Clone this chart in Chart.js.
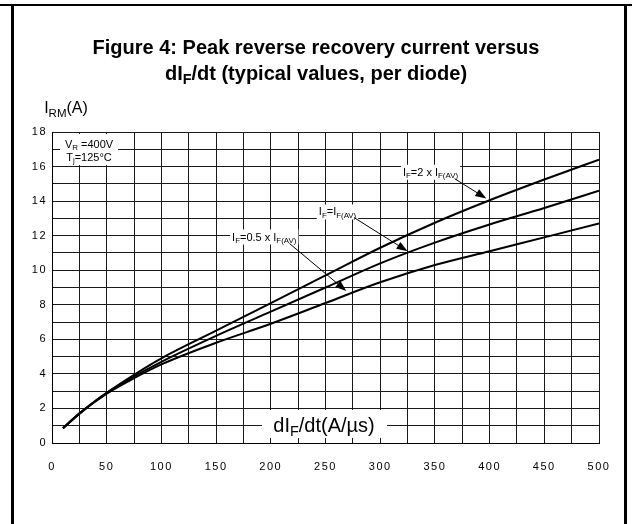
<!DOCTYPE html>
<html>
<head>
<meta charset="utf-8">
<script src="https://cdn.jsdelivr.net/npm/chart.js@4.4.0/dist/chart.umd.min.js"></script>
<style>
  html, body { margin: 0; padding: 0; background: #fff; }
</style>
</head>
<body>
<canvas id="myChart" width="632" height="524"></canvas>
<script>
// dIF/dt (A/us) sample points
const didt = [10, 25, 50, 75, 100, 150, 200, 250, 300, 350, 400, 450, 500];
// IRM (A) for each forward current
const irmDouble = [0.85, 1.7, 2.9, 3.95, 4.9, 6.5, 8.1, 9.7, 11.3, 12.75, 14.05, 15.25, 16.4];
const irmRated = [0.85, 1.7, 2.9, 3.85, 4.7, 6.2, 7.6, 9.0, 10.4, 11.6, 12.65, 13.6, 14.6];
const irmHalf = [0.85, 1.7, 2.85, 3.75, 4.55, 5.8, 6.9, 8.1, 9.3, 10.3, 11.1, 11.9, 12.7];

const xMin = 0, xMax = 500, xGridStep = 25, xLabelStep = 50;
const yMin = 0, yMax = 18, yGridStep = 1, yLabelStep = 2;

// text pieces: [text, isSubscript]
const titleLine1 = [["Figure 4: Peak reverse recovery current versus", 0]];
const titleLine2 = [["dI", 0], ["F", 1], ["/dt (typical values, per diode)", 0]];
const yTitle = [["I", 0], ["RM", 1], ["(A)", 0]];
const xTitle = [["dI", 0], ["F", 1], ["/dt(A/\u00b5s)", 0]];
const condLine1 = [["V", 0], ["R", 1], [" =400V", 0]];
const condLine2 = [["T", 0], ["j", 1], ["=125\u00b0C", 0]];

// curve labels, placed in data units: label point, arrow start, arrow tip
const curveLabels = [
  { text: [["I", 0], ["F", 1], ["=2 x I", 0], ["F(AV)", 1]], at: [346, 15.7], from: [368, 15.3], to: [397, 14.15] },
  { text: [["I", 0], ["F", 1], ["=I", 0], ["F(AV)", 1]], at: [261, 13.4], from: [276, 13.05], to: [325, 11.1] },
  { text: [["I", 0], ["F", 1], ["=0.5 x I", 0], ["F(AV)", 1]], at: [194, 11.95], from: [217, 11.55], to: [269, 8.8] }
];

const FONT = "'Liberation Sans', Arial, Helvetica, sans-serif";

function richWidth(c, parts, size, bold) {
  let w = 0;
  parts.forEach(([t, sub]) => {
    c.font = (bold ? "bold " : "") + (sub ? size * 0.72 : size) + "px " + FONT;
    w += c.measureText(t).width;
  });
  return w;
}

// draws text with subscripts, x is the centre, y the baseline
function drawRich(c, parts, x, y, size, bold) {
  const w = richWidth(c, parts, size, bold);
  let px = x - w / 2;
  c.textAlign = "left";
  c.textBaseline = "alphabetic";
  parts.forEach(([t, sub]) => {
    c.font = (bold ? "bold " : "") + (sub ? size * 0.72 : size) + "px " + FONT;
    c.fillText(t, px, sub ? y + size * 0.22 : y);
    px += c.measureText(t).width;
  });
  return w;
}

function whiteBox(c, x, y, w, h) {
  c.fillStyle = "#fff";
  c.fillRect(x, y, w, h);
  c.fillStyle = "#000";
}

const decor = {
  id: "decor",
  beforeDraw(chart) {
    const c = chart.ctx;
    c.save();
    c.fillStyle = "#fff";
    c.fillRect(0, 0, chart.width, chart.height);
    c.fillStyle = "#000";
    c.fillRect(0, 4, chart.width, 2);
    c.fillRect(11, 4, 3, chart.height);
    c.fillRect(624, 4, 3, chart.height);
    c.restore();
    c.letterSpacing = "1.5px";
  },
  afterDatasetsDraw(chart) {
    const c = chart.ctx;
    const xs = chart.scales.x, ys = chart.scales.y;
    c.save();
    c.letterSpacing = "0px";
    c.fillStyle = "#000";

    // test conditions box, top left of the grid
    whiteBox(c, 60, 134, 58, 31);
    drawRich(c, condLine1, 89, 148, 11, false);
    drawRich(c, condLine2, 89, 161, 11, false);

    // axis title sitting inside the grid
    whiteBox(c, 262, 410, 125, 28);
    drawRich(c, xTitle, 324, 432, 20, false);

    // curve labels with arrows
    curveLabels.forEach((lb) => {
      const lx = xs.getPixelForValue(lb.at[0]);
      const ly = ys.getPixelForValue(lb.at[1]);
      const w = richWidth(c, lb.text, 11, false);
      whiteBox(c, lx - w / 2 - 2, ly - 7, w + 4, 15);
      drawRich(c, lb.text, lx, ly + 4, 11, false);

      const x1 = xs.getPixelForValue(lb.from[0]), y1 = ys.getPixelForValue(lb.from[1]);
      const x2 = xs.getPixelForValue(lb.to[0]), y2 = ys.getPixelForValue(lb.to[1]);
      const ang = Math.atan2(y2 - y1, x2 - x1);
      c.strokeStyle = "#000";
      c.lineWidth = 1;
      c.beginPath();
      c.moveTo(x1, y1);
      c.lineTo(x2 - 8 * Math.cos(ang), y2 - 8 * Math.sin(ang));
      c.stroke();
      c.beginPath();
      c.moveTo(x2, y2);
      c.lineTo(x2 - 11 * Math.cos(ang) + 4 * Math.sin(ang), y2 - 11 * Math.sin(ang) - 4 * Math.cos(ang));
      c.lineTo(x2 - 11 * Math.cos(ang) - 4 * Math.sin(ang), y2 - 11 * Math.sin(ang) + 4 * Math.cos(ang));
      c.closePath();
      c.fill();
    });
    c.restore();
  },
  afterDraw(chart) {
    const c = chart.ctx;
    c.save();
    c.letterSpacing = "0px";
    c.fillStyle = "#000";
    drawRich(c, titleLine1, 316, 54, 20, true);
    drawRich(c, titleLine2, 316, 80, 20, true);
    drawRich(c, yTitle, 66, 113, 16, false);
    c.restore();
  }
};

const toPoints = (ys) => didt.map((x, i) => ({ x: x, y: ys[i] }));
const curve = (ys) => ({
  data: toPoints(ys),
  borderColor: "#000",
  borderWidth: 2,
  pointRadius: 0,
  fill: false,
  cubicInterpolationMode: "monotone"
});

const tickFont = { family: FONT, size: 11 };

new Chart(document.getElementById("myChart"), {
  type: "line",
  data: {
    datasets: [curve(irmDouble), curve(irmRated), curve(irmHalf)]
  },
  options: {
    responsive: false,
    animation: false,
    layout: { padding: { top: 132, right: 33, bottom: 31, left: 0 } },
    plugins: {
      legend: { display: false },
      tooltip: { enabled: false },
      title: { display: false }
    },
    scales: {
      x: {
        type: "linear",
        min: xMin,
        max: xMax,
        afterFit: (s) => { s.height = 50; },
        ticks: {
          stepSize: xGridStep,
          autoSkip: false,
          maxRotation: 0,
          padding: 17,
          color: "#000",
          font: tickFont,
          callback: (v) => (v % xLabelStep === 0 ? v : "")
        },
        grid: { color: "#1a1a1a", lineWidth: 1, drawTicks: false },
        border: { color: "#000", width: 1 }
      },
      y: {
        min: yMin,
        max: yMax,
        afterFit: (s) => { s.width = 52; },
        ticks: {
          stepSize: yGridStep,
          autoSkip: false,
          padding: 5,
          color: "#000",
          font: tickFont,
          callback: (v) => (v % yLabelStep === 0 ? v : "")
        },
        grid: { color: "#1a1a1a", lineWidth: 1, drawTicks: false },
        border: { color: "#000", width: 1 }
      }
    }
  },
  plugins: [decor]
});
</script>
</body>
</html>
